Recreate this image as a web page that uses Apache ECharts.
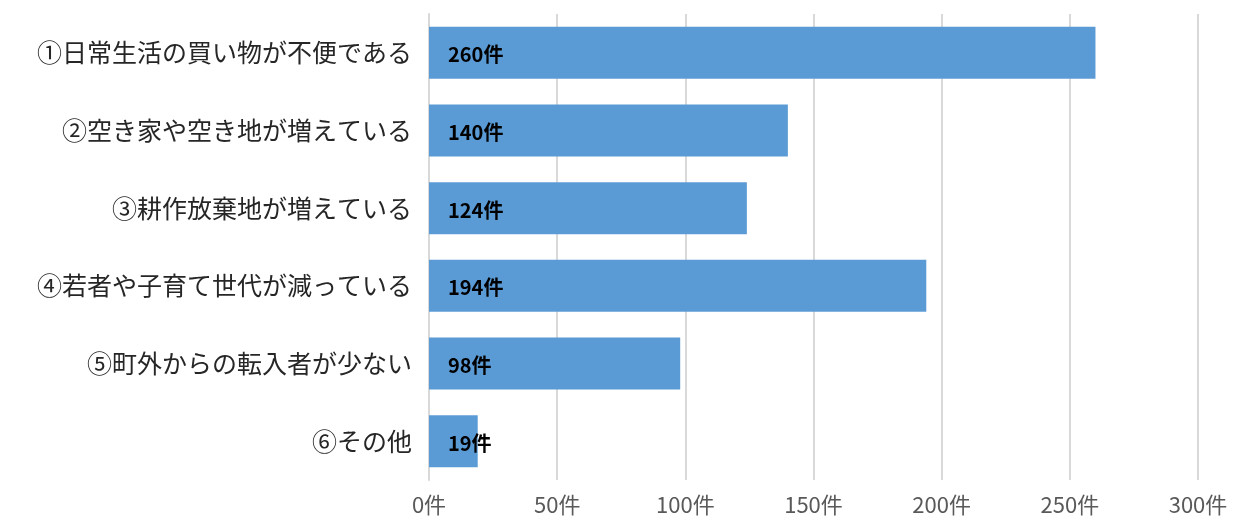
<!DOCTYPE html>
<html><head><meta charset="utf-8">
<script src="https://cdn.jsdelivr.net/npm/echarts@6/dist/echarts.min.js"></script>
<style>html,body{margin:0;padding:0;background:#fff}#c{width:1237px;height:520px}</style>
</head><body><div id="c"></div>
<script>
const categories = ['①日常生活の買い物が不便である','②空き家や空き地が増えている','③耕作放棄地が増えている','④若者や子育て世代が減っている','⑤町外からの転入者が少ない','⑥その他'];
const values = [260, 140, 124, 194, 98, 19];
const unit = '件';
const chart = echarts.init(document.getElementById('c'));
chart.setOption({
  animation: false,
  grid: {left: 429, right: 39, top: 14, bottom: 40, containLabel: false},
  xAxis: {
    type: 'value', min: 0, max: 300, interval: 50,
    axisLine: {show: false}, axisTick: {show: false},
    splitLine: {lineStyle: {color: '#d9d9d9', width: 2}},
    axisLabel: {formatter: v => v + unit, color: '#595959', fontSize: 22, margin: 14,
      fontFamily: '"Noto Sans CJK JP", sans-serif'}
  },
  yAxis: {
    type: 'category', data: categories, inverse: true,
    axisLine: {show: true, lineStyle: {color: '#d9d9d9', width: 2}},
    axisTick: {show: false},
    axisLabel: {color: '#262626', fontSize: 25, margin: 17,
      fontFamily: '"Noto Sans CJK JP", sans-serif'}
  },
  series: [{
    type: 'bar', data: values, barWidth: '67%',
    itemStyle: {color: '#5b9bd5'},
    label: {show: true, position: 'insideLeft', offset: [14, 2], formatter: p => p.value + unit,
      color: '#000', fontSize: 20, fontWeight: 'bold', fontFamily: '"Noto Sans CJK JP", sans-serif'}
  }]
});
</script></body></html>
